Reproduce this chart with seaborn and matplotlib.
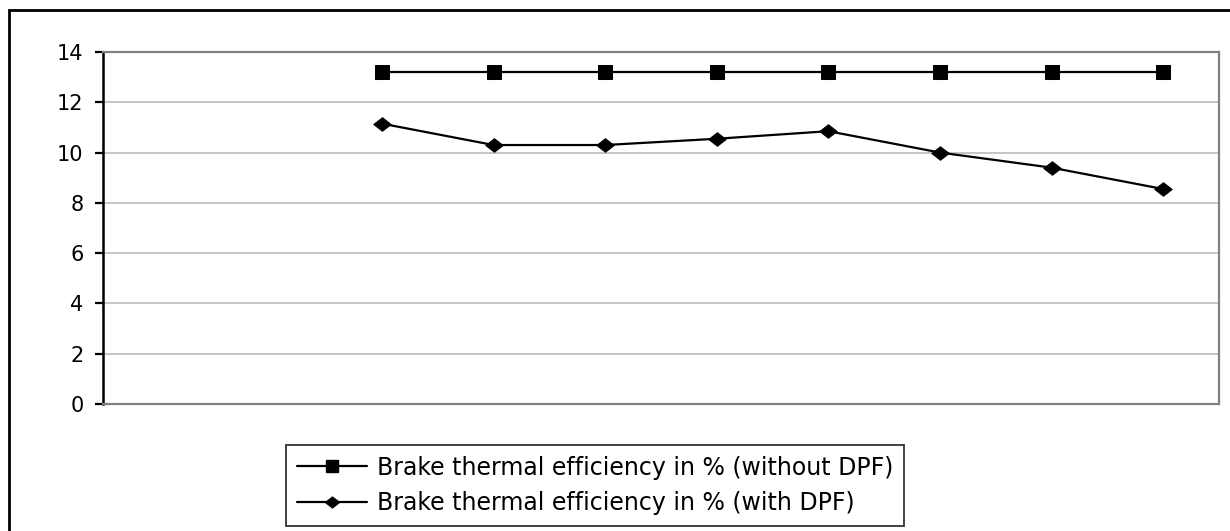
import matplotlib
matplotlib.use("Agg")
import matplotlib.pyplot as plt
import matplotlib.patches as mpatches
from matplotlib.path import Path
from matplotlib.lines import Line2D
import seaborn as sns
import pandas as pd
import numpy as np

categories = list(range(1, 11))
without_dpf = [np.nan, np.nan, 13.2, 13.2, 13.2, 13.2, 13.2, 13.2, 13.2, 13.2]
with_dpf = [np.nan, np.nan, 11.15, 10.3, 10.3, 10.55, 10.85, 10.0, 9.4, 8.55]
series_names = ["Brake thermal efficiency in % (without DPF)",
                "Brake thermal efficiency in % (with DPF)"]
yticks = [0, 2, 4, 6, 8, 10, 12, 14]

sns.set_theme(style="white")
plt.rcParams['font.family'] = ['DejaVu Sans']
plt.rcParams['text.color'] = 'black'

df = pd.DataFrame({
    "pos": list(range(len(categories))) * 2,
    "value": without_dpf + with_dpf,
    "series": [series_names[0]] * len(categories) + [series_names[1]] * len(categories),
})

fig = plt.figure(figsize=(12.3, 5.31), dpi=100)
ax = fig.add_axes([103/1230, 1-404/531, (1219-103)/1230, (404-52)/531])

diamond = Path([(-1, 0), (0, 0.78), (1, 0), (0, -0.78), (-1, 0)],
               [Path.MOVETO, Path.LINETO, Path.LINETO, Path.LINETO, Path.CLOSEPOLY])

sns.lineplot(data=df, x="pos", y="value", hue="series", style="series",
             palette=["black", "black"], markers=["s", diamond], dashes=False,
             linewidth=1.6, ax=ax, legend=False)
lines = ax.get_lines()
lines[0].set_markersize(10.5)
lines[1].set_markersize(12.5)
for l in lines:
    l.set_markeredgecolor("black")
    l.set_markerfacecolor("black")

ax.set_xlim(-0.5, len(categories) - 0.5)
ax.set_ylim(0, 14)
ax.set_yticks(yticks)
ax.set_yticklabels([str(t) for t in yticks], fontsize=15)
ax.set_xticks([])
ax.set_xlabel("")
ax.set_ylabel("")
ax.grid(axis="y", color="#c0c0c0", linewidth=1.3)
ax.set_axisbelow(True)
ax.tick_params(axis="y", length=6, width=1.6, color="black", direction="out",
               left=True, pad=8, labelcolor="black")
for side in ["top", "right", "bottom"]:
    ax.spines[side].set_color("#808080")
    ax.spines[side].set_linewidth(1.6)
ax.spines["left"].set_color("black")
ax.spines["left"].set_linewidth(1.8)

handles = [Line2D([], [], color="black", lw=1.6, marker="s", ms=8),
           Line2D([], [], color="black", lw=1.6, marker=diamond, ms=10)]
leg = fig.legend(handles, series_names, loc="upper left",
                 bbox_to_anchor=(286/1230, 1-445/531), bbox_transform=fig.transFigure,
                 fontsize=17, frameon=True, fancybox=False, borderaxespad=0,
                 handlelength=3.0, handletextpad=0.4, labelspacing=0.5,
                 borderpad=0.45, labelcolor="black")
leg.get_frame().set_edgecolor("black")
leg.get_frame().set_linewidth(1.3)

frame = mpatches.Rectangle((9/1230, -0.1), 1.2, 1.1 - 10/531, transform=fig.transFigure,
                           fill=False, edgecolor="black", linewidth=2, clip_on=False)
fig.patches.append(frame)

fig.savefig("out.png", dpi=100, facecolor="white")
